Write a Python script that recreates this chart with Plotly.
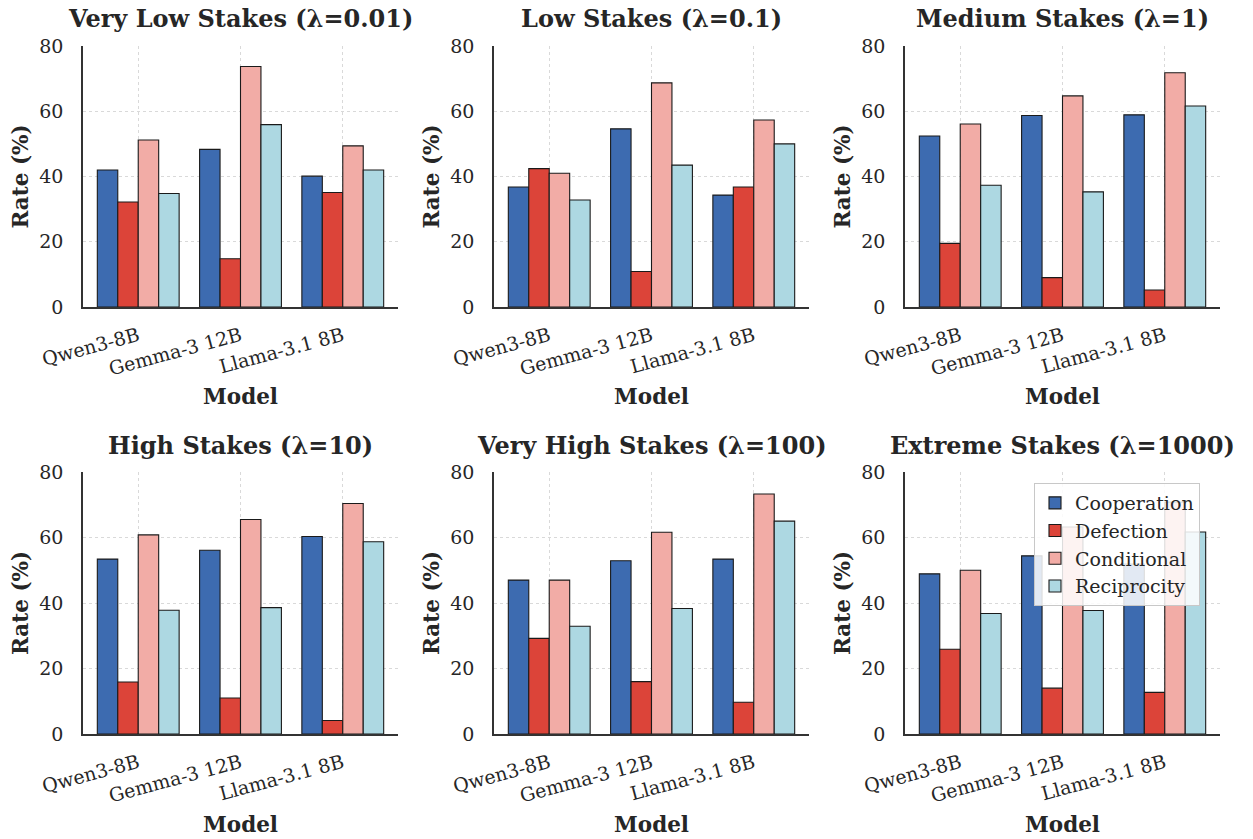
import plotly.graph_objects as go

models = ["Qwen3-8B", "Gemma-3 12B", "Llama-3.1 8B"]
series_names = ["Cooperation", "Defection", "Conditional", "Reciprocity"]
colors = ["#3d6bb0", "#dc4439", "#f2aca6", "#add8e2"]

titles = [
    "Very Low Stakes (λ=0.01)",
    "Low Stakes (λ=0.1)",
    "Medium Stakes (λ=1)",
    "High Stakes (λ=10)",
    "Very High Stakes (λ=100)",
    "Extreme Stakes (λ=1000)",
]

# values per panel: [Cooperation, Defection, Conditional, Reciprocity], each over models
very_low = [[42.0, 48.3, 40.1], [32.2, 14.8, 35.1], [51.2, 73.7, 49.4], [34.8, 55.9, 42.0]]
low = [[36.8, 54.6, 34.3], [42.4, 10.9, 36.8], [41.0, 68.7, 57.3], [32.8, 43.5, 50.0]]
medium = [[52.4, 58.7, 58.9], [19.5, 9.0, 5.2], [56.1, 64.7, 71.8], [37.3, 35.3, 61.6]]
high = [[53.4, 56.1, 60.3], [15.9, 11.0, 4.1], [60.8, 65.5, 70.4], [37.8, 38.6, 58.7]]
very_high = [[47.0, 52.9, 53.4], [29.2, 16.0, 9.7], [47.0, 61.6, 73.3], [32.9, 38.3, 65.0]]
extreme = [[48.9, 54.4, 51.9], [25.9, 14.0, 12.7], [50.0, 63.2, 70.8], [36.8, 37.7, 61.7]]
panels = [very_low, low, medium, high, very_high, extreme]

y_ticks = [0, 20, 40, 60, 80]

W, H = 1253, 839
col_px = [(83, 398), (494, 809), (905, 1220)]
row_px = [(46, 307), (472, 734)]

FONT = "DejaVu Serif"
TXT = "#262626"

fig = go.Figure()
annotations = []
layout_axes = {}

for i, data in enumerate(panels):
    r, c = divmod(i, 3)
    x0, x1 = col_px[c]
    t, b = row_px[r]
    idx = i + 1
    xa = "x" if idx == 1 else f"x{idx}"
    ya = "y" if idx == 1 else f"y{idx}"
    for s, name in enumerate(series_names):
        fig.add_trace(go.Bar(
            x=models, y=data[s], name=name, xaxis=xa, yaxis=ya,
            marker=dict(color=colors[s], line=dict(color="#1a1a1a", width=1.1)),
            showlegend=(i == 0), legendgroup=name, offsetgroup=str(s),
        ))
    axis_common = dict(
        showline=True, linecolor="#333333", linewidth=1.6,
        showgrid=True, gridcolor="#d9d9d9", griddash="dot", gridwidth=1,
        ticks="", zeroline=False, automargin=False,
        tickfont=dict(family=FONT, size=19, color=TXT),
    )
    layout_axes[("xaxis" if idx == 1 else f"xaxis{idx}")] = dict(
        axis_common, domain=[x0 / W, x1 / W], anchor=ya,
        type="category", range=[-0.54, 2.54], tickangle=-15,
        ticklabelstandoff=9,
    )
    layout_axes[("yaxis" if idx == 1 else f"yaxis{idx}")] = dict(
        axis_common, domain=[1 - b / H, 1 - t / H], anchor=xa,
        range=[0, 80], tickvals=y_ticks, ticktext=[str(v) for v in y_ticks],
        ticklabelstandoff=14,
    )
    cx = (x0 + x1) / 2
    # subplot title
    annotations.append(dict(
        text=f"<b>{titles[i]}</b>", x=cx / W, y=1 - (t - 27) / H,
        xref="paper", yref="paper", xanchor="center", yanchor="middle",
        showarrow=False, font=dict(family=FONT, size=24, color=TXT),
    ))
    # y-axis title
    annotations.append(dict(
        text="<b>Rate (%)</b>", x=(x0 - 63) / W, y=1 - ((t + b) / 2) / H,
        xref="paper", yref="paper", xanchor="center", yanchor="middle",
        textangle=-90, showarrow=False, font=dict(family=FONT, size=21.5, color=TXT),
    ))
    # x-axis title
    annotations.append(dict(
        text="<b>Model</b>", x=cx / W, y=1 - (b + 90) / H,
        xref="paper", yref="paper", xanchor="center", yanchor="middle",
        showarrow=False, font=dict(family=FONT, size=21.5, color=TXT),
    ))

fig.update_layout(
    width=W, height=H, margin=dict(l=0, r=0, t=0, b=0, autoexpand=False),
    paper_bgcolor="white", plot_bgcolor="white",
    barmode="group", bargap=0.2, bargroupgap=0,
    font=dict(family=FONT, color=TXT),
    annotations=annotations,
    legend=dict(
        x=1034 / W, y=1 - 483 / H, xanchor="left", yanchor="top",
        bgcolor="rgba(255,255,255,0.85)", bordercolor="#c8c8c8", borderwidth=1,
        font=dict(family=FONT, size=19, color=TXT),
        tracegroupgap=0, itemwidth=30,
    ),
    **layout_axes,
)

fig.write_html("out.html")
